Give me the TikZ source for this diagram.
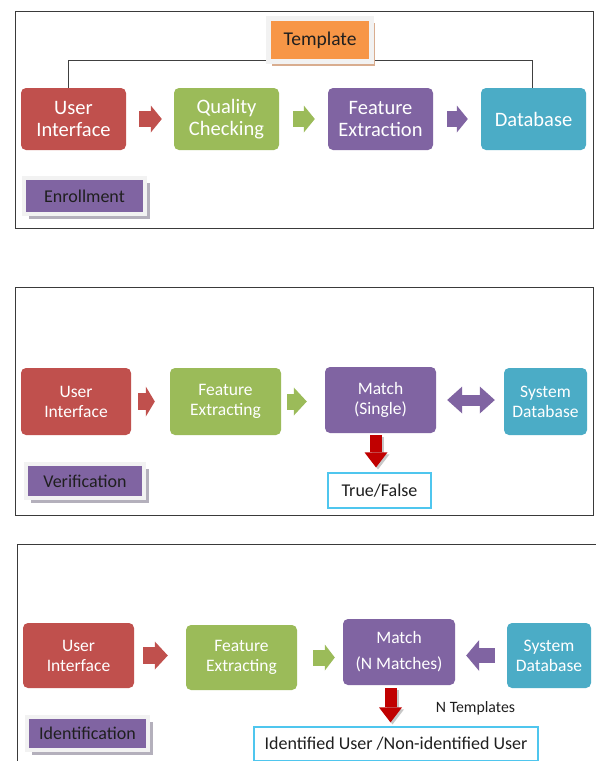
\documentclass[tikz,border=0pt]{standalone}
\usepackage{fontspec}
\setmainfont{Carlito}
\usetikzlibrary{arrows.meta,shadows}
\definecolor{cred}{HTML}{C0504D}
\definecolor{cgreen}{HTML}{9BBB59}
\definecolor{cpurple}{HTML}{8064A2}
\definecolor{cteal}{HTML}{4BACC6}
\definecolor{corange}{HTML}{F79646}
\definecolor{cdred}{HTML}{C00000}
\definecolor{cblue}{HTML}{4FC6EE}
\definecolor{cframe}{HTML}{3A3A3A}
\definecolor{cline}{HTML}{404040}
\definecolor{cpale}{HTML}{F2F2F2}
\definecolor{ctan}{HTML}{D9AD8F}
\definecolor{cgshadow}{HTML}{B4B0BC}
\begin{document}
\begin{tikzpicture}[x=1pt,y=-1pt,
  box/.style={rounded corners=5pt, text=white, align=center, inner sep=0pt,
    font=\fontsize{17.5}{20}\selectfont},
  bigbox/.style={box, minimum width=105pt, minimum height=62pt,
    font=\fontsize{20.5}{22.5}\selectfont},
  tag/.style={fill=cpurple, draw=cpale, line width=4pt, text=black!88, inner sep=0pt,
    font=\fontsize{18}{20}\selectfont,
    drop shadow={shadow xshift=4.5pt, shadow yshift=-4.5pt, fill=cgshadow, opacity=1}},
  outbox/.style={draw=cblue, line width=1.2pt, fill=white, inner sep=0pt, text=black!88,
    font=\fontsize{18}{20}\selectfont},
  panel/.style={draw=cframe, line width=0.9pt},
  conn/.style={draw=cline, line width=0.9pt},
]
\useasboundingbox[fill=white] (0,0) rectangle (595,761);

% ---------- Panel 1: Enrollment ----------
\draw[panel] (15,11) rectangle (593,228);
\node[bigbox, fill=cred] (ui1) at (73.5,119) {User\\Interface};
\node[bigbox, fill=cgreen] (qc) at (226.5,119) {Quality\\Checking};
\node[bigbox, fill=cpurple] (fe1) at (380.5,119) {Feature\\Extraction};
\node[bigbox, fill=cteal] (db1) at (533.5,119) {Database};
\draw[conn] ([xshift=-5.5pt]ui1.north) -- ++(0,-27) -| ([xshift=-1.5pt]db1.north);
\node[fill=corange, draw=cpale, line width=5pt, inner sep=0pt, minimum width=103pt,
  minimum height=43pt, font=\fontsize{19.5}{21}\selectfont, text=black!88,
  drop shadow={shadow xshift=3.5pt, shadow yshift=-4pt, fill=ctan, opacity=1}]
  (tpl) at (320,40) {Template};
\node[tag, minimum width=121pt, minimum height=36pt] (enr) at (84.5,196) {Enrollment};

\draw[cred, line width=16pt, shorten <=13pt, shorten >=12pt,
  -{Triangle[length=11pt,width=27pt,line width=0pt]}] (ui1) -- (qc);
\draw[cgreen, line width=16pt, shorten <=14pt, shorten >=13pt,
  -{Triangle[length=11pt,width=27pt,line width=0pt]}] (qc) -- (fe1);
\draw[cpurple, line width=16pt, shorten <=14pt, shorten >=13pt,
  -{Triangle[length=11pt,width=27pt,line width=0pt]}] (fe1) -- (db1);

% ---------- Panel 2: Verification ----------
\draw[panel] (15,287) rectangle (593,515);
\node[box, fill=cred, minimum width=110pt, minimum height=67pt] (ui2) at (76,401.5) {User\\Interface};
\node[box, fill=cgreen, minimum width=111pt, minimum height=67pt] (fe2) at (225.5,401.5) {Feature\\Extracting};
\node[box, fill=cpurple, minimum width=111pt, minimum height=66pt] (ms) at (380.5,400) {Match\\(Single)};
\node[box, fill=cteal, minimum width=83pt, minimum height=67pt] (sd2) at (545.5,401.5) {System\\Database};
\node[outbox, minimum width=103pt, minimum height=35pt] (tf) at (379.5,490.5) {True/False};
\node[tag, minimum width=118pt, minimum height=34pt] (ver) at (85,481) {Verification};

\draw[cred, line width=17pt, shorten <=7pt, shorten >=15pt,
  -{Triangle[length=9pt,width=30pt,line width=0pt]}] (ui2) -- (fe2);
\draw[cgreen, line width=16pt, shorten <=6pt, shorten >=18pt,
  -{Triangle[length=13pt,width=28pt,line width=0pt]}] (fe2.east) -- (fe2.east -| ms.west);
\draw[cpurple, line width=11pt, shorten <=11pt, shorten >=9pt,
  {Triangle[length=15pt,width=27pt,line width=0pt]}-{Triangle[length=15pt,width=27pt,line width=0pt]}]
  (ms.east) -- (ms.east -| sd2.west);
\draw[black!22, line width=12pt, shorten <=4pt, shorten >=3pt,
  -{Triangle[length=15pt,width=23pt,line width=0pt]}]
  ([xshift=-2.5pt]ms.south) -- ([xshift=-2.5pt]ms.south |- tf.north);
\draw[cdred, line width=12pt, shorten <=2pt, shorten >=5pt,
  -{Triangle[length=15pt,width=23pt,line width=0pt]}]
  ([xshift=-4.5pt]ms.south) -- ([xshift=-4.5pt]ms.south |- tf.north);

% ---------- Panel 3: Identification ----------
\draw[panel] (596,544) -- (17,544) -- (17,762);
\node[box, fill=cred, minimum width=111pt, minimum height=65pt] (ui3) at (78.5,655.5) {User\\Interface};
\node[box, fill=cgreen, minimum width=111pt, minimum height=65pt] (fe3) at (241.5,657.5) {Feature\\Extracting};
\node[box, fill=cpurple, minimum width=112pt, minimum height=66pt,
  font=\fontsize{17.5}{26}\selectfont] (mn) at (399,652) {Match\\(N Matches)};
\node[box, fill=cteal, minimum width=84pt, minimum height=65pt] (sd3) at (549,655.5) {System\\Database};
\node[outbox, minimum width=284pt, minimum height=34pt] (idn) at (396,744)
  {Identified User /Non-identified User};
\node[tag, minimum width=121pt, minimum height=33pt] (ide) at (87.5,733.5) {Identification};
\node[inner sep=0pt, text=black!88, font=\fontsize{15.8}{18}\selectfont] (ntp) at (475.5,708) {N Templates};

\draw[cred, line width=17pt, shorten <=9pt, shorten >=18pt,
  -{Triangle[length=13pt,width=28pt,line width=0pt]}] (ui3.east) -- (ui3.east -| fe3.west);
\draw[cgreen, line width=16pt, shorten <=16pt, shorten >=8pt,
  -{Triangle[length=10pt,width=26pt,line width=0pt]}] (fe3.east) -- (fe3.east -| mn.west);
\draw[cpurple, line width=15pt, shorten <=12pt, shorten >=11pt,
  -{Triangle[length=13pt,width=31pt,line width=0pt]}] (sd3.west) -- (sd3.west -| mn.east);
\draw[black!22, line width=12pt, shorten <=5pt, shorten >=2pt,
  -{Triangle[length=15pt,width=23pt,line width=0pt]}]
  ([xshift=-6.5pt]mn.south) -- ([xshift=-6.5pt]mn.south |- idn.north);
\draw[cdred, line width=12pt, shorten <=3pt, shorten >=4pt,
  -{Triangle[length=15pt,width=23pt,line width=0pt]}]
  ([xshift=-8.5pt]mn.south) -- ([xshift=-8.5pt]mn.south |- idn.north);
\end{tikzpicture}
\end{document}
